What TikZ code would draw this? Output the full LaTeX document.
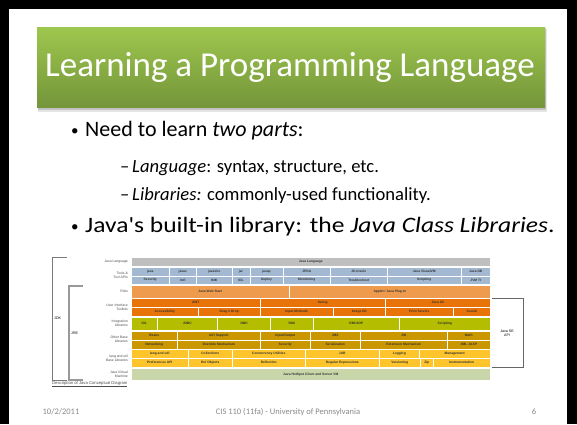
\documentclass[tikz,border=0pt]{standalone}
\usepackage{fontspec}
\setmainfont{Carlito}[Ligatures=TeXOff]
\newfontfamily\diagfont{Liberation Sans}
\definecolor{titletop}{HTML}{9EC74E}
\definecolor{titlebot}{HTML}{74953A}
\definecolor{langgray}{HTML}{BFBFBF}
\definecolor{toolsblue}{HTML}{A2B9D1}
\definecolor{riaorange}{HTML}{EF9B4E}
\definecolor{uiorange}{HTML}{E87409}
\definecolor{integgreen}{HTML}{B4BD00}
\definecolor{basegold}{HTML}{CA9700}
\definecolor{utilyellow}{HTML}{FDC42C}
\definecolor{jvmgreen}{HTML}{C9D6A9}
\definecolor{footgray}{HTML}{8A8A8A}
\definecolor{bracketgray}{HTML}{7A7A7A}

\begin{document}
\begin{tikzpicture}[x=1pt,y=-1pt,
  bodytext/.style={anchor=base west,inner sep=0pt,font=\fontsize{22}{26}\selectfont},
  subtext/.style={anchor=base west,inner sep=0pt,font=\fontsize{18.6}{22}\selectfont},
  bulletdot/.style={anchor=base west,inner sep=0pt,font=\fontsize{15}{18}\selectfont},
  footer/.style={anchor=base,inner sep=0pt,text=footgray,font=\fontsize{8.5}{10}\selectfont},
  cell/.style={anchor=north west,draw=white,line width=0.5pt,inner sep=0pt,
    text=black!80,font=\diagfont\bfseries\fontsize{3.3}{3.8}\selectfont},
  langrow/.style={cell,fill=langgray,minimum height=9},
  toolrow/.style={cell,fill=toolsblue,minimum height=8.5},
  riarow/.style={cell,fill=riaorange,minimum height=13},
  uirow/.style={cell,fill=uiorange,minimum height=9},
  integrow/.style={cell,fill=integgreen,minimum height=13},
  baserow/.style={cell,fill=basegold,minimum height=9},
  utilrow/.style={cell,fill=utilyellow,minimum height=9},
  jvmrow/.style={cell,fill=jvmgreen,minimum height=12},
  rowlabel/.style={anchor=east,align=right,inner sep=0pt,text=black!70,
    font=\diagfont\fontsize{3.4}{4}\selectfont},
  bracket/.style={draw=bracketgray,line width=1pt},
  apibracket/.style={draw=black!60,line width=0.8pt}]
\useasboundingbox (0,0) rectangle (577,424);
% slide frame
\fill[black] (0,0) rectangle (577,424);
\fill[white] (9,9) rectangle (567,424);
% title bar
\fill[black,opacity=0.10] (38,29) rectangle (547,112);
\fill[black,opacity=0.15] (38,28) rectangle (546,109.5);
\shade[top color=titletop,bottom color=titlebot] (37,27) rectangle (545,107);
\node[text=white,inner sep=0pt,font=\fontsize{35}{40}\selectfont] (title) at (290,67) {Learning a Programming Language};
% bullets
\node[bulletdot] (dot1) at (71,135) {•};
\node[bodytext] (need) at (85,136) {Need to learn \textit{two parts}:};
\node[subtext] (dash1) at (120,172) {–};
\node[subtext] (langpart) at (132,172) {\textit{Language}: syntax, structure, etc.};
\node[subtext] (dash2) at (120,200) {–};
\node[subtext] (libpart) at (132,200) {\textit{Libraries:} commonly-used functionality.};
\node[bulletdot] (dot2) at (71,231) {•};
\node[bodytext,xscale=1.16] (classlib) at (85,232) {Java's built-in library: the \textit{Java Class Libraries}.};
% row labels
\node[rowlabel] (lbllang) at (128,261.5) {Java Language};
\node[rowlabel] (lbltools) at (128,275.5) {Tools \&\\Tool APIs};
\node[rowlabel] (lblria) at (128,291.5) {RIAs};
\node[rowlabel] (lblui) at (128,307) {User Interface\\Toolkits};
\node[rowlabel] (lblinteg) at (128,323.5) {Integration\\Libraries};
\node[rowlabel] (lblbase) at (128,339) {Other Base\\Libraries};
\node[rowlabel] (lblutil) at (128,358) {lang and util\\Base Libraries};
\node[rowlabel] (lbljvm) at (128,374) {Java Virtual\\Machine};
% Java Language
\node[langrow,minimum width=359] (javalang) at (131,257) {Java Language};
% Tools
\node[toolrow,minimum width=38] (java) at (131,267) {java};
\node[toolrow,minimum width=27] (javac) at (169,267) {javac};
\node[toolrow,minimum width=36] (javadoc) at (196,267) {javadoc};
\node[toolrow,minimum width=17.5] (jar) at (232,267) {jar};
\node[toolrow,minimum width=33.5] (javap) at (249.5,267) {javap};
\node[toolrow,minimum width=47] (jpda) at (283,267) {JPDA};
\node[toolrow,minimum width=57] (jconsole) at (330,267) {JConsole};
\node[toolrow,minimum width=74] (visualvm) at (387,267) {Java VisualVM};
\node[toolrow,minimum width=29] (javadb) at (461,267) {Java DB};
\node[toolrow,minimum width=38] (security) at (131,275.5) {Security};
\node[toolrow,minimum width=27] (intl) at (169,275.5) {Int'l};
\node[toolrow,minimum width=36] (rmitool) at (196,275.5) {RMI};
\node[toolrow,minimum width=17.5] (idltool) at (232,275.5) {IDL};
\node[toolrow,minimum width=33.5] (deploy) at (249.5,275.5) {Deploy};
\node[toolrow,minimum width=47] (monitoring) at (283,275.5) {Monitoring};
\node[toolrow,minimum width=57] (troubleshoot) at (330,275.5) {Troubleshoot};
\node[toolrow,minimum width=74] (scripttool) at (387,275.5) {Scripting};
\node[toolrow,minimum width=29] (jvmti) at (461,275.5) {JVM TI};
% RIAs
\node[riarow,minimum width=158] (webstart) at (131,285) {Java Web Start};
\node[riarow,minimum width=201] (plugin) at (289,285) {Applet / Java Plug-in};
% User Interface Toolkits
\node[uirow,minimum width=129] (awt) at (131,298) {AWT};
\node[uirow,minimum width=125] (swing) at (260,298) {Swing};
\node[uirow,minimum width=105] (java2d) at (385,298) {Java 2D};
\node[uirow,minimum width=67] (access) at (131,307) {Accessibility};
\node[uirow,minimum width=62] (dragdrop) at (198,307) {Drag n Drop};
\node[uirow,minimum width=73] (inputmeth) at (260,307) {Input Methods};
\node[uirow,minimum width=52] (imageio) at (333,307) {Image I/O};
\node[uirow,minimum width=68] (printsvc) at (385,307) {Print Service};
\node[uirow,minimum width=37] (sound) at (453,307) {Sound};
% Integration Libraries
\node[integrow,minimum width=26] (idl) at (131,317) {IDL};
\node[integrow,minimum width=60] (jdbc) at (157,317) {JDBC};
\node[integrow,minimum width=53] (jndi) at (217,317) {JNDI};
\node[integrow,minimum width=43] (rmi) at (270,317) {RMI};
\node[integrow,minimum width=86] (rmiiiop) at (313,317) {RMI-IIOP};
\node[integrow,minimum width=91] (scripting) at (399,317) {Scripting};
% Other Base Libraries
\node[baserow,minimum width=46] (beans) at (131,330.5) {Beans};
\node[baserow,minimum width=83] (intlsupport) at (177,330.5) {Int'l Support};
\node[baserow,minimum width=50] (inout) at (260,330.5) {Input/Output};
\node[baserow,minimum width=50] (jmx) at (310,330.5) {JMX};
\node[baserow,minimum width=87] (jni) at (360,330.5) {JNI};
\node[baserow,minimum width=43] (math) at (447,330.5) {Math};
\node[baserow,minimum width=46] (networking) at (131,339.5) {Networking};
\node[baserow,minimum width=83] (override) at (177,339.5) {Override Mechanism};
\node[baserow,minimum width=50] (basesec) at (260,339.5) {Security};
\node[baserow,minimum width=50] (serial) at (310,339.5) {Serialization};
\node[baserow,minimum width=87] (extension) at (360,339.5) {Extension Mechanism};
\node[baserow,minimum width=43] (xmljaxp) at (447,339.5) {XML JAXP};
% lang and util Base Libraries
\node[utilrow,minimum width=57] (langutil) at (131,349) {lang and util};
\node[utilrow,minimum width=44] (collections) at (188,349) {Collections};
\node[utilrow,minimum width=73] (concurrency) at (232,349) {Concurrency Utilities};
\node[utilrow,minimum width=74] (jarlib) at (305,349) {JAR};
\node[utilrow,minimum width=40] (logging) at (379,349) {Logging};
\node[utilrow,minimum width=71] (management) at (419,349) {Management};
\node[utilrow,minimum width=57] (prefs) at (131,358) {Preferences API};
\node[utilrow,minimum width=44] (refobj) at (188,358) {Ref Objects};
\node[utilrow,minimum width=73] (reflection) at (232,358) {Reflection};
\node[utilrow,minimum width=74] (regex) at (305,358) {Regular Expressions};
\node[utilrow,minimum width=41] (versioning) at (379,358) {Versioning};
\node[utilrow,minimum width=13] (zip) at (420,358) {Zip};
\node[utilrow,minimum width=57] (instrument) at (433,358) {Instrumentation};
% Java Virtual Machine
\node[jvmrow,minimum width=359] (hotspot) at (131,368) {Java HotSpot Client and Server VM};
% JDK / JRE / Java SE API brackets
\coordinate (jdktop) at (67,257);
\coordinate (jdkbot) at (67,380);
\coordinate (jretop) at (83,286);
\coordinate (jrebot) at (83,380);
\coordinate (apitop) at (492,298);
\coordinate (apibot) at (492,367);
\draw[bracket] (jdktop) -- ++(-15,0) |- (jdkbot);
\draw[bracket,draw=black!40,line width=1.3pt] (jretop) -- ++(-14,0) |- (jrebot);
\draw[apibracket] (apitop) -- ++(31,0) |- (apibot);
\node[anchor=west,inner sep=0pt,font=\diagfont\fontsize{3.6}{4}\selectfont] (jdk) at (54,318) {JDK};
\node[anchor=west,inner sep=0pt,font=\diagfont\fontsize{3.6}{4}\selectfont] (jre) at (71,333) {JRE};
\node[align=center,inner sep=0pt,font=\diagfont\fontsize{3.6}{4}\selectfont] (seapi) at (507,333) {Java SE\\API};
\node[anchor=west,inner sep=0pt,text=black!70,font=\diagfont\fontsize{4.2}{5}\selectfont] (descr) at (52,384) {\underline{Description of Java Conceptual Diagram}};
% footer
\node[footer] (date) at (61,414) {10/2/2011};
\node[footer] (course) at (288,414) {CIS 110 (11fa) - University of Pennsylvania};
\node[footer] (pageno) at (534,414) {6};
\end{tikzpicture}
\end{document}
